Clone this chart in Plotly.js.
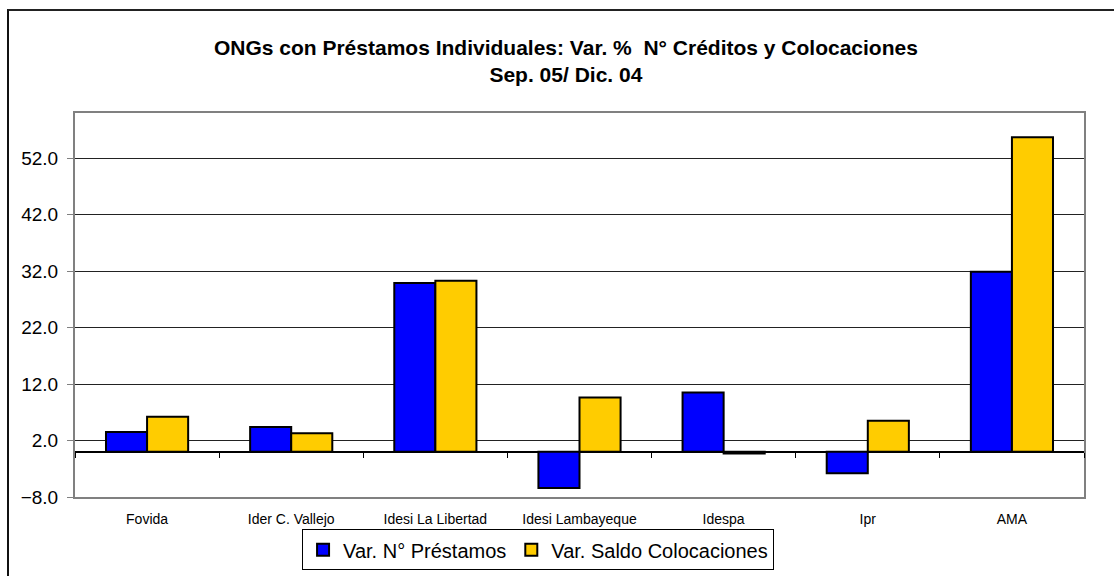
<!DOCTYPE html>
<html>
<head>
<meta charset="utf-8">
<script src="https://cdn.plot.ly/plotly-3.0.1.min.js"></script>
<style>
  body { margin: 0; background: #fff; }
  #plot { position: absolute; left: 0; top: 0; width: 1114px; height: 576px; }
  #frame { position: absolute; left: 7px; top: 9px; width: 1200px; height: 700px;
           border-left: 2px solid #111; border-top: 2px solid #222; pointer-events: none; }
</style>
</head>
<body>
<div id="plot"></div>
<div id="frame"></div>
<script>
var ongs = ['Fovida', 'Ider C. Vallejo', 'Idesi La Libertad', 'Idesi Lambayeque', 'Idespa', 'Ipr', 'AMA'];
var var_prestamos = [3.5, 4.4, 29.9, -6.4, 10.5, -3.8, 31.9];
var var_colocaciones = [6.2, 3.3, 30.3, 9.6, -0.3, 5.5, 55.7];
var name_prestamos = 'Var. N° Préstamos';
var name_colocaciones = 'Var. Saldo Colocaciones';

var yMin = -8, yMax = 60;

var trace1 = {
  x: ongs,
  y: var_prestamos,
  name: name_prestamos,
  type: 'bar',
  marker: {color: '#0000FF', line: {color: '#000', width: 2}}
};

var trace2 = {
  x: ongs,
  y: var_colocaciones,
  name: name_colocaciones,
  type: 'bar',
  marker: {color: '#FFCC00', line: {color: '#000', width: 2}}
};

// empty trace so the zero-line tick axis (x2) gets drawn
var tickHolder = {
  x: [], y: [], xaxis: 'x2', yaxis: 'y',
  type: 'scatter', mode: 'markers', showlegend: false, hoverinfo: 'skip'
};

// category boundaries for the little ticks on the zero line
var bounds = [];
for (var i = 0; i <= ongs.length; i++) bounds.push(i - 0.5);

var layout = {
  width: 1114,
  height: 576,
  margin: {l: 75, r: 30, t: 113, b: 79},
  paper_bgcolor: '#fff',
  plot_bgcolor: '#fff',
  font: {family: 'Arial, "Liberation Sans", sans-serif', color: '#000'},
  title: {
    text: '<b>ONGs con Préstamos Individuales: Var. %  N° Créditos y Colocaciones<br>Sep. 05/ Dic. 04</b>',
    font: {family: '"Liberation Sans Narrow", "Arial Narrow", Arial, sans-serif', size: 21},
    x: 0.508, xanchor: 'center',
    y: 0.905, yanchor: 'top'
  },
  barmode: 'group',
  bargap: 0.43,
  bargroupgap: 0,
  xaxis: {
    type: 'category',
    range: [-0.5, ongs.length - 0.5],
    showline: true, linecolor: '#808080', linewidth: 2, mirror: true,
    ticks: 'outside', ticklen: 8, tickcolor: 'rgba(0,0,0,0)',
    tickfont: {size: 14},
    showgrid: false, zeroline: false
  },
  xaxis2: {
    overlaying: 'x',
    anchor: 'free',
    position: (0 - yMin) / (yMax - yMin),
    type: 'linear',
    range: [-0.5, ongs.length - 0.5],
    tickvals: bounds,
    ticks: 'outside', ticklen: 5, tickcolor: '#000', tickwidth: 1,
    showticklabels: false, showgrid: false, zeroline: false, showline: false
  },
  yaxis: {
    range: [yMin, yMax],
    tick0: 2, dtick: 10,
    tickformat: '.1f',
    ticks: 'outside', ticklen: 6, tickcolor: '#808080',
    ticklabelstandoff: 5,
    tickfont: {size: 19},
    showline: true, linecolor: '#808080', linewidth: 2, mirror: true,
    showgrid: true, gridcolor: '#222', gridwidth: 1,
    zeroline: true, zerolinecolor: '#000', zerolinewidth: 1.5
  },
  showlegend: true,
  legend: {
    orientation: 'h',
    xref: 'container', yref: 'container',
    x: 0.483, xanchor: 'center',
    y: 0.081, yanchor: 'top',
    bordercolor: '#000', borderwidth: 1,
    font: {size: 20},
    itemsizing: 'constant'
  }
};

Plotly.newPlot('plot', [trace1, trace2, tickHolder], layout, {displayModeBar: false, staticPlot: true});
</script>
</body>
</html>
